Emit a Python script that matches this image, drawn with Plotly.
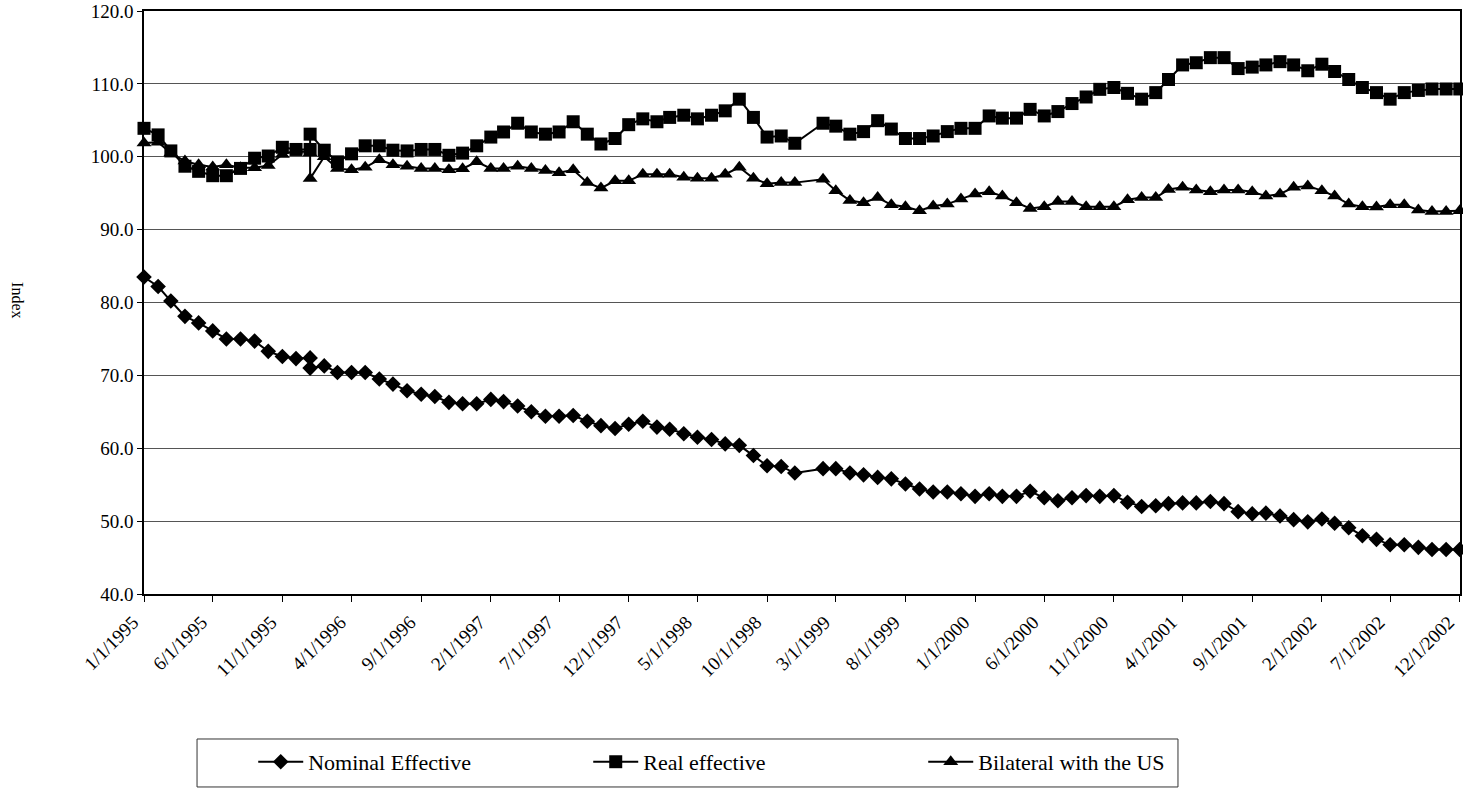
import plotly.graph_objects as go

# Observation dates (first of month). January 1996 carries two observations,
# January 1999 has none.
dates = (
    ["1995-%02d-01" % m for m in range(1, 13)]
    + ["1996-01-01", "1996-01-01"] + ["1996-%02d-01" % m for m in range(2, 13)]
    + ["1997-%02d-01" % m for m in range(1, 13)]
    + ["1998-%02d-01" % m for m in range(1, 13)]
    + ["1999-%02d-01" % m for m in range(2, 13)]
    + ["2000-%02d-01" % m for m in range(1, 13)]
    + ["2001-%02d-01" % m for m in range(1, 13)]
    + ["2002-%02d-01" % m for m in range(1, 13)]
)

# Category labels shown on the time axis, every fifth month
tick_labels = [
    "1/1/1995", "6/1/1995", "11/1/1995", "4/1/1996", "9/1/1996", "2/1/1997",
    "7/1/1997", "12/1/1997", "5/1/1998", "10/1/1998", "3/1/1999", "8/1/1999",
    "1/1/2000", "6/1/2000", "11/1/2000", "4/1/2001", "9/1/2001", "2/1/2002",
    "7/1/2002", "12/1/2002",
]

nominal_effective = [
    83.5, 82.2, 80.2, 78.1, 77.2, 76.1, 75.0, 75.0, 74.7, 73.3, 72.6, 72.3,
    72.4, 71.0, 71.3, 70.4, 70.4, 70.4, 69.5, 68.8, 67.9, 67.4, 67.1, 66.3, 66.1,
    66.1, 66.7, 66.4, 65.8, 65.0, 64.4, 64.4, 64.5, 63.7, 63.1, 62.7, 63.3,
    63.7, 62.9, 62.6, 62.0, 61.5, 61.2, 60.6, 60.4, 59.0, 57.6, 57.5, 56.6,
    57.2, 57.2, 56.6, 56.35, 56.0, 55.8, 55.1, 54.4, 54.0, 54.0, 53.75,
    53.4, 53.75, 53.4, 53.4, 54.1, 53.2, 52.8, 53.2, 53.5, 53.4, 53.5, 52.6,
    52.0, 52.1, 52.4, 52.5, 52.5, 52.7, 52.4, 51.3, 51.0, 51.1, 50.7, 50.2,
    49.9, 50.3, 49.7, 49.1, 48.0, 47.5, 46.75, 46.75, 46.4, 46.1, 46.1, 46.1,
]

real_effective = [
    103.9, 103.0, 100.8, 98.7, 98.0, 97.4, 97.4, 98.4, 99.8, 100.1, 101.3, 101.0,
    101.0, 103.1, 100.9, 99.3, 100.4, 101.5, 101.5, 100.9, 100.8, 101.0, 101.0, 100.2, 100.5,
    101.5, 102.7, 103.4, 104.6, 103.4, 103.1, 103.4, 104.8, 103.1, 101.75, 102.5, 104.4,
    105.2, 104.8, 105.4, 105.7, 105.2, 105.7, 106.3, 107.9, 105.4, 102.7, 102.85, 101.85,
    104.6, 104.2, 103.1, 103.45, 104.95, 103.8, 102.5, 102.5, 102.85, 103.45, 103.9,
    103.9, 105.6, 105.3, 105.3, 106.5, 105.6, 106.2, 107.3, 108.2, 109.25, 109.5, 108.7,
    107.9, 108.8, 110.6, 112.6, 112.9, 113.6, 113.6, 112.1, 112.3, 112.6, 113.05, 112.6,
    111.8, 112.7, 111.7, 110.6, 109.5, 108.8, 107.9, 108.8, 109.1, 109.3, 109.3, 109.3,
]

bilateral_us = [
    101.9, 102.0, 100.5, 99.4, 98.9, 98.6, 98.9, 98.5, 98.5, 98.8, 100.3, 100.9,
    100.5, 97.0, 100.0, 98.4, 98.2, 98.55, 99.6, 98.9, 98.7, 98.4, 98.4, 98.2, 98.35,
    99.3, 98.4, 98.4, 98.7, 98.4, 98.1, 97.8, 98.2, 96.45, 95.7, 96.7, 96.7,
    97.6, 97.6, 97.6, 97.2, 97.05, 97.05, 97.6, 98.55, 97.05, 96.3, 96.45, 96.45,
    96.9, 95.35, 94.0, 93.7, 94.4, 93.4, 93.15, 92.6, 93.25, 93.5, 94.2,
    94.9, 95.2, 94.6, 93.7, 92.9, 93.15, 93.85, 93.85, 93.15, 93.15, 93.15, 94.1,
    94.4, 94.4, 95.5, 95.8, 95.45, 95.2, 95.45, 95.45, 95.2, 94.6, 94.9, 95.8,
    96.0, 95.35, 94.6, 93.5, 93.15, 93.1, 93.4, 93.4, 92.7, 92.5, 92.5, 92.6,
]

series = [
    ("Nominal Effective", nominal_effective, "diamond", 12),
    ("Real effective", real_effective, "square", 13),
    ("Bilateral with the US", bilateral_us, "triangle-up", 13),
]

FONT = "Liberation Serif, Times New Roman, serif"


def to_iso(label):
    m, d, y = label.split("/")
    return "%s-%02d-%02d" % (y, int(m), int(d))


fig = go.Figure()
for name, values, symbol, size in series:
    fig.add_trace(go.Scatter(
        x=dates, y=values, name=name, mode="lines+markers",
        line=dict(color="black", width=2),
        marker=dict(symbol=symbol, size=size, color="black",
                    line=dict(color="black", width=0)),
        cliponaxis=False,
    ))

fig.update_layout(
    width=1463, height=788,
    margin=dict(l=144, r=3, t=11, b=194),
    paper_bgcolor="white", plot_bgcolor="white",
    font=dict(family=FONT, color="black", size=19),
    showlegend=True,
    legend=dict(
        orientation="h", x=0.083, y=-0.288, xanchor="left", yanchor="middle",
        font=dict(family=FONT, size=22, color="black"),
        bgcolor="rgba(0,0,0,0)", entrywidth=275, entrywidthmode="pixels",
        itemwidth=45,
    ),
    xaxis=dict(
        type="date", range=["1995-01-01", "2002-12-01 12:00"],
        tickmode="array", tickvals=[to_iso(t) for t in tick_labels],
        ticktext=tick_labels, ticklabeloverflow="allow", automargin=False,
        ticklabelshift=-11, ticklabelstandoff=2,
        tickangle=-45, ticks="outside", ticklen=6, tickcolor="black",
        showline=True, linecolor="black", linewidth=1.5, mirror=True,
        showgrid=False, zeroline=False,
        tickfont=dict(family=FONT, size=19, color="black"),
    ),
    yaxis=dict(
        range=[40, 120], dtick=10, tickformat=".1f", automargin=False,
        ticks="outside", ticklen=5, tickcolor="black",
        showline=True, linecolor="black", linewidth=1.5, mirror=True,
        showgrid=True, gridcolor="#555555", gridwidth=1, zeroline=False,
        tickfont=dict(family=FONT, size=19, color="black"),
    ),
    shapes=[dict(
        type="rect", xref="paper", yref="paper",
        x0=0.0403, x1=0.7857, y0=-0.331, y1=-0.2487,
        line=dict(color="#333333", width=1), fillcolor="rgba(0,0,0,0)",
    )],
    annotations=[dict(
        text="Index", xref="paper", yref="paper", x=-0.0957, y=0.504,
        xanchor="center", yanchor="middle",
        showarrow=False, textangle=90,
        font=dict(family=FONT, size=16, color="black"),
    )],
)

fig.write_html("out.html")
